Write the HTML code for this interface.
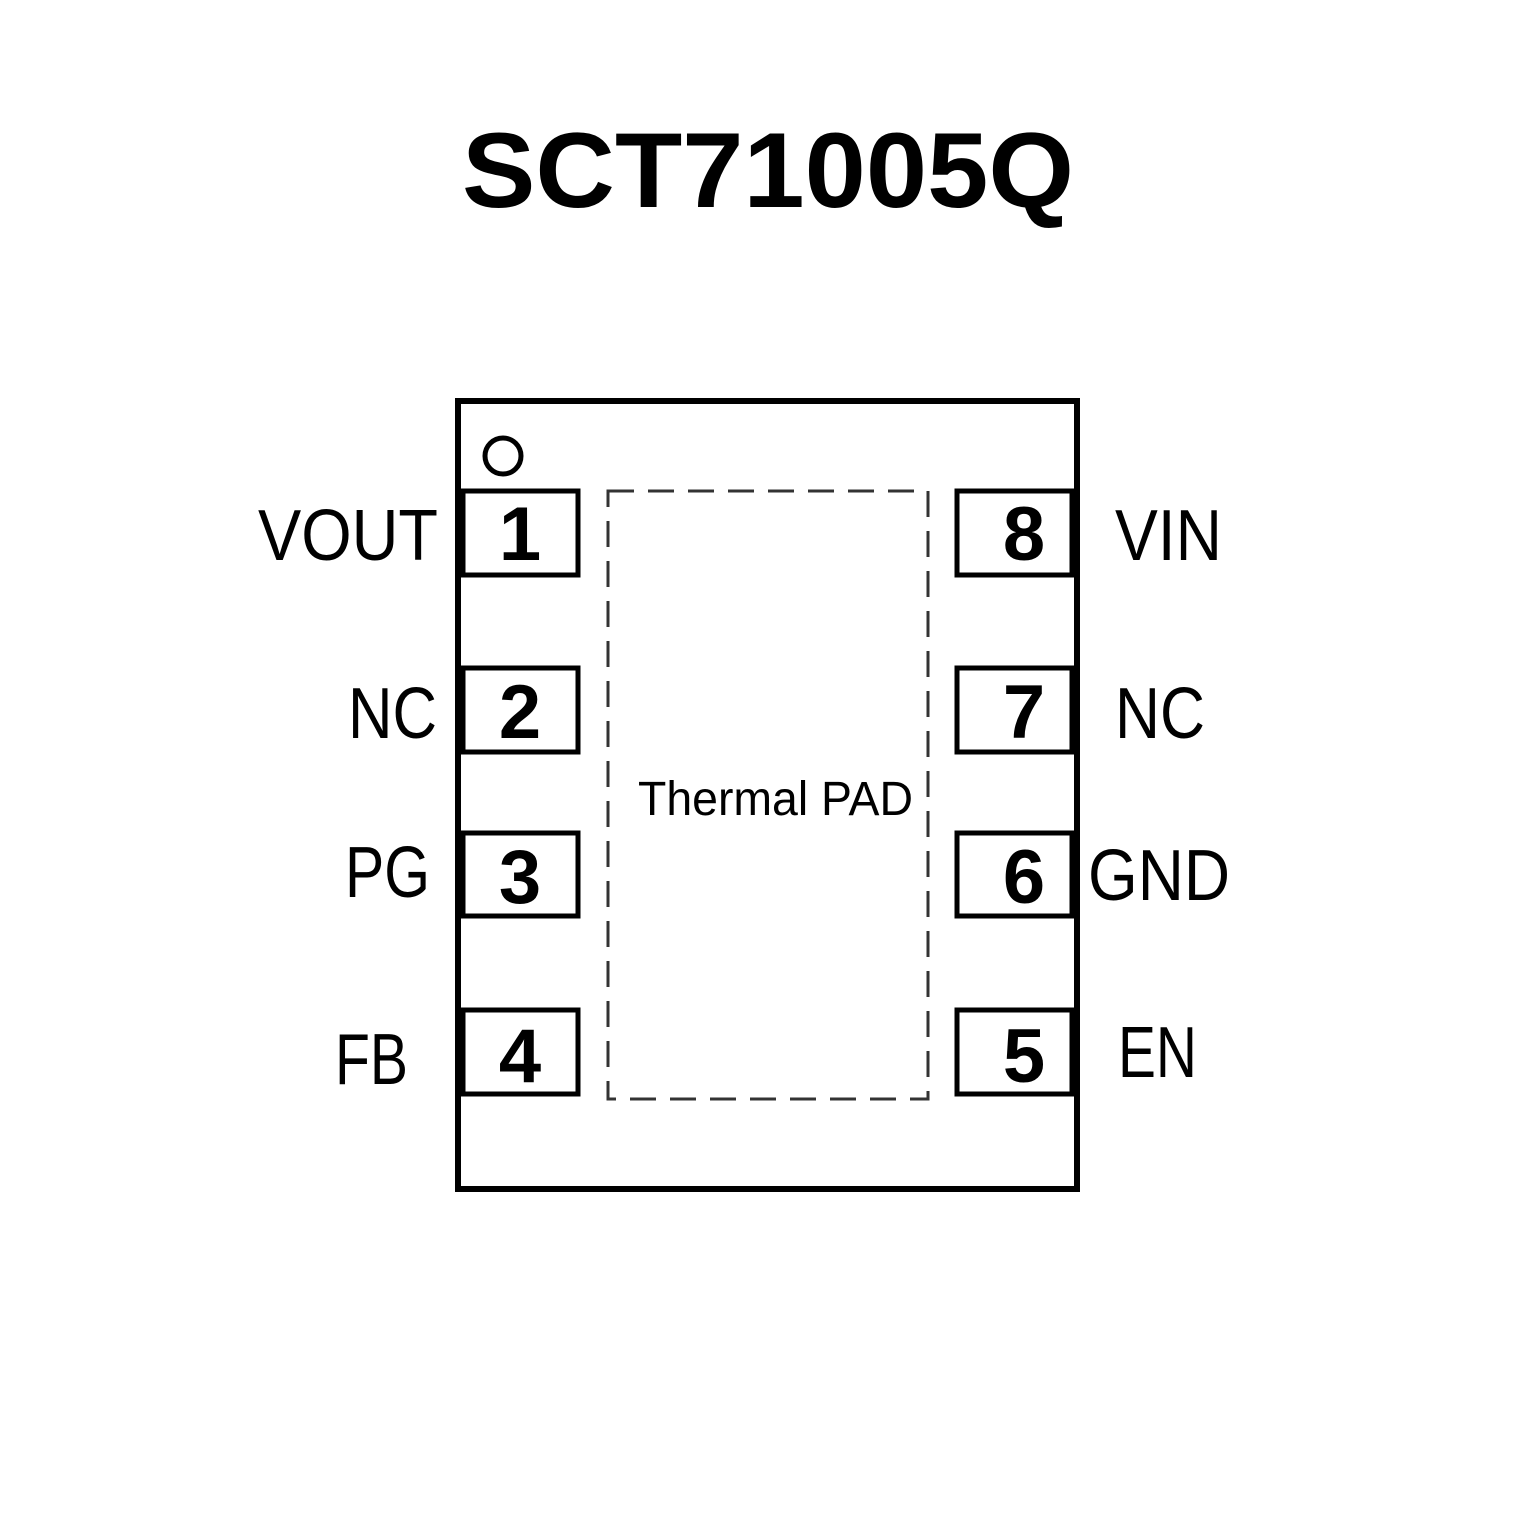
<!DOCTYPE html>
<html><head><meta charset="utf-8"><style>
html,body{margin:0;padding:0;background:#fff;}
svg{display:block;}
text{font-family:"Liberation Sans",sans-serif;fill:#000;}
</style></head><body>
<svg width="1535" height="1535" viewBox="0 0 1535 1535" xmlns="http://www.w3.org/2000/svg">
<text x="768" y="207" font-size="107" font-weight="bold" text-anchor="middle" textLength="612" lengthAdjust="spacingAndGlyphs">SCT71005Q</text>
<rect x="458" y="401" width="619" height="788" fill="none" stroke="#000" stroke-width="6"/>
<circle cx="503" cy="456" r="18" fill="none" stroke="#000" stroke-width="5"/>
<rect x="608" y="491" width="320" height="608" fill="none" stroke="#333" stroke-width="3" stroke-dasharray="26 14"/>
<g fill="none" stroke="#000" stroke-width="5">
<rect x="463" y="491" width="115" height="84"/>
<rect x="463" y="668" width="115" height="84"/>
<rect x="463" y="833" width="115" height="83"/>
<rect x="463" y="1010" width="115" height="84"/>
<rect x="957" y="491" width="115" height="84"/>
<rect x="957" y="668" width="115" height="84"/>
<rect x="957" y="833" width="115" height="83"/>
<rect x="957" y="1010" width="115" height="84"/>
</g>
<g font-size="76" font-weight="bold" text-anchor="middle">
<text x="520" y="560">1</text>
<text x="520" y="738">2</text>
<text x="520" y="903">3</text>
<text x="520" y="1082">4</text>
<text x="1024" y="560">8</text>
<text x="1024" y="738">7</text>
<text x="1024" y="903">6</text>
<text x="1024" y="1082">5</text>
</g>
<g font-size="72">
<text x="258" y="560" textLength="180" lengthAdjust="spacingAndGlyphs">VOUT</text>
<text x="348" y="738" textLength="89" lengthAdjust="spacingAndGlyphs">NC</text>
<text x="345" y="897" textLength="85" lengthAdjust="spacingAndGlyphs">PG</text>
<text x="335" y="1084" textLength="73" lengthAdjust="spacingAndGlyphs">FB</text>
<text x="1115" y="560" textLength="107" lengthAdjust="spacingAndGlyphs">VIN</text>
<text x="1115" y="738" textLength="90" lengthAdjust="spacingAndGlyphs">NC</text>
<text x="1088" y="900" textLength="142" lengthAdjust="spacingAndGlyphs">GND</text>
<text x="1118" y="1077" textLength="79" lengthAdjust="spacingAndGlyphs">EN</text>
</g>
<text x="638" y="815" font-size="48" textLength="275" lengthAdjust="spacingAndGlyphs">Thermal PAD</text>
</svg>
</body></html>
